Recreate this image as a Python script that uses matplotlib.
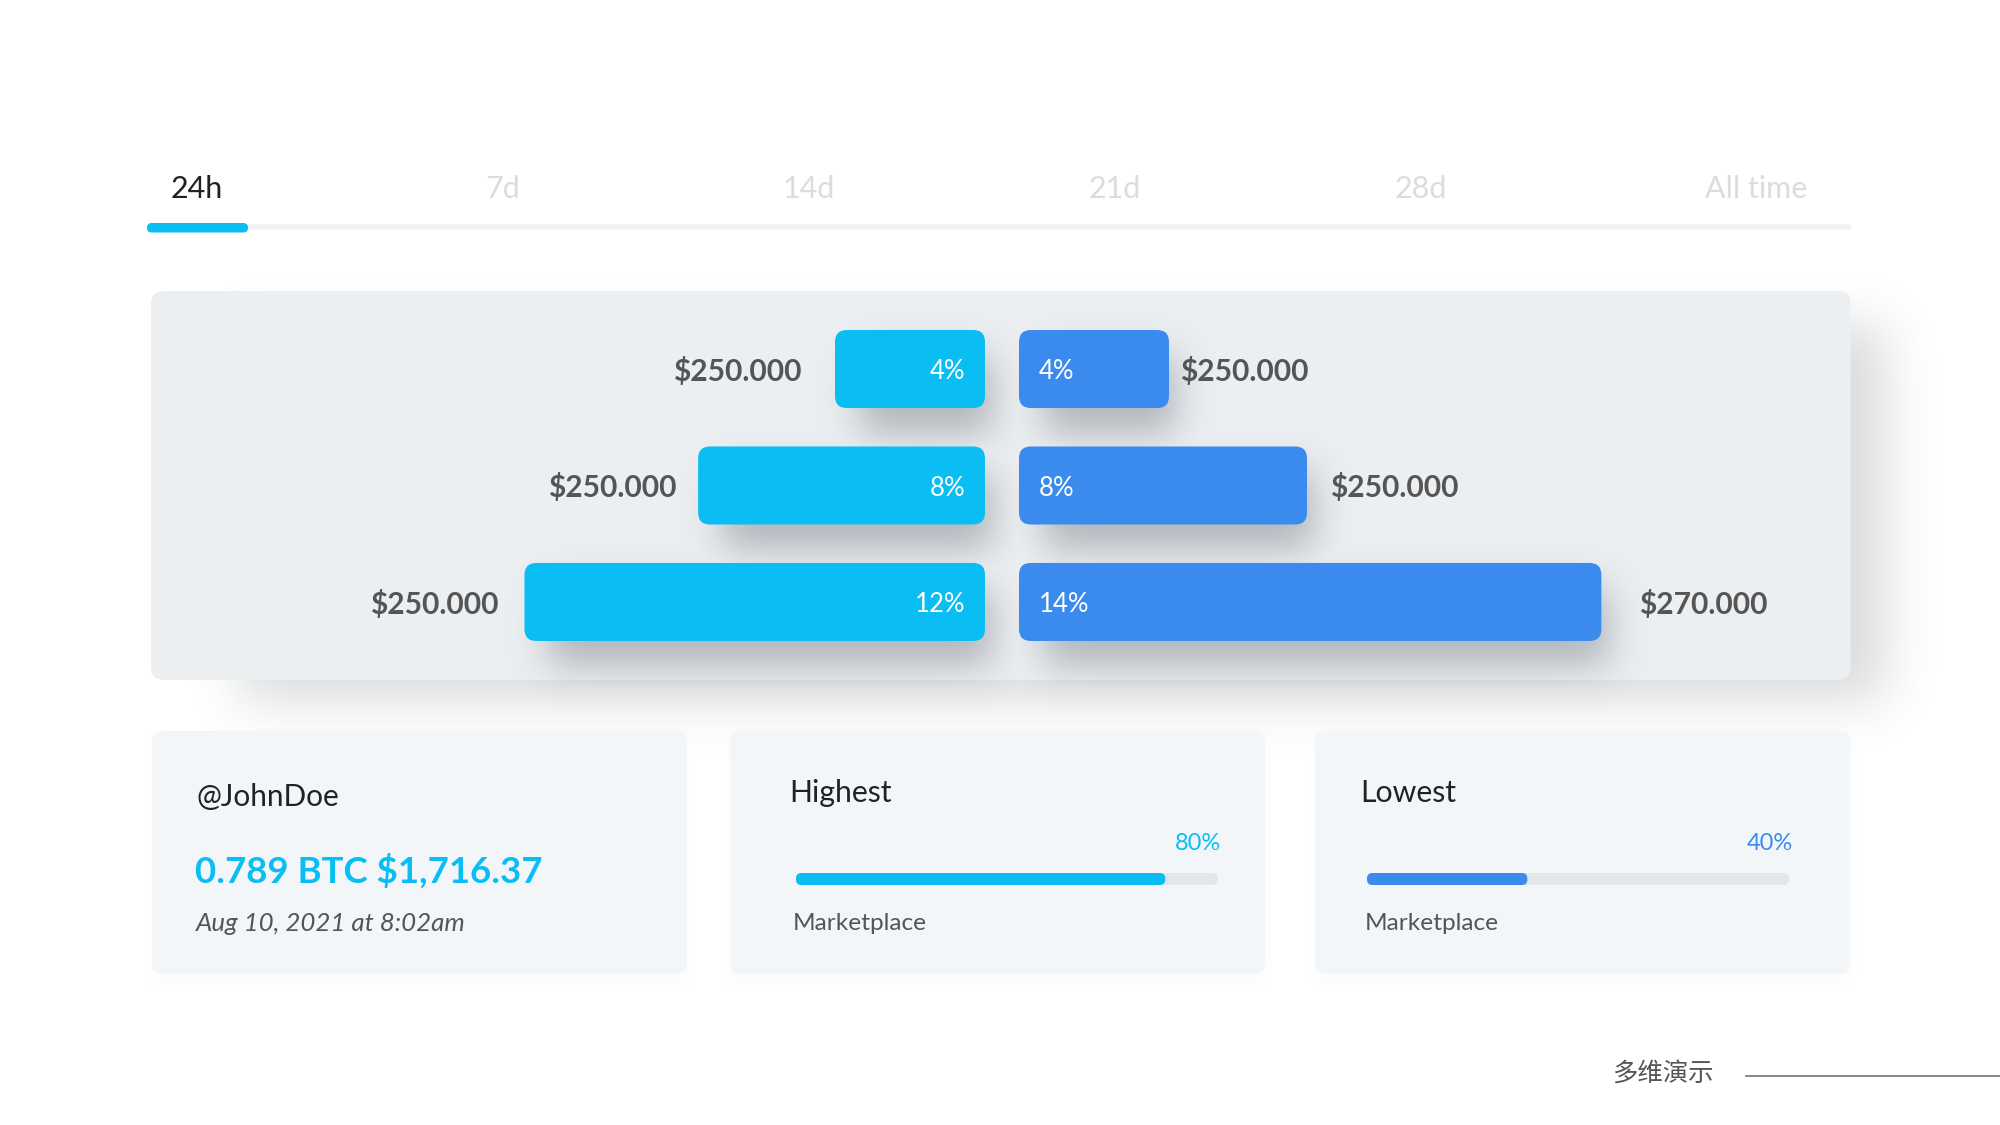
import numpy as np
import matplotlib
matplotlib.use("Agg")
import matplotlib.pyplot as plt
from matplotlib.patches import FancyBboxPatch, Rectangle

# ---- data ----
tabs = ["24h", "7d", "14d", "21d", "28d", "All time"]
tab_centres = [197, 503, 809, 1115, 1421, 1756]
left_lengths = [4.0, 7.65, 12.28]     # bar lengths
right_lengths = [4.0, 7.68, 15.53]
left_pct = ["4%", "8%", "12%"]
right_pct = ["4%", "8%", "14%"]
left_money = ["$250.000", "$250.000", "$250.000"]
right_money = ["$250.000", "$250.000", "$270.000"]
left_money_end = [802, 677, 499]
right_money_start = [1180, 1330, 1639]
progress_titles = ["Highest", "Lowest"]
progress_fill = [87.5, 38.0]
progress_labels = ["80%", "40%"]

CYAN = "#0ABDF3"
BLUE = "#3B8BEE"
PANEL = "#ECEFF2"
CARD = "#F3F6F9"
DARK = "#222222"
GREY = "#555555"

W, H = 2000, 1125
plt.rcParams["font.family"] = ["Lato", "Noto Sans CJK SC", "DejaVu Sans"]
fig = plt.figure(figsize=(20, 11.25), dpi=100, facecolor="white")
ax = fig.add_axes([0, 0, 1, 1], zorder=0)
ax.set_axis_off()


def sub_axes(x0, y0, x1, y1, z=1):
    a = fig.add_axes([x0 / W, 1 - y1 / H, (x1 - x0) / W, (y1 - y0) / H], zorder=z)
    a.set_axis_off()
    a.patch.set_alpha(0)
    return a


def rbox(a, x, y, w, h, r, a_ratio=1.0, **kw):
    p = FancyBboxPatch((x, y), w, h, boxstyle=f"round,pad=0,rounding_size={r}",
                       mutation_aspect=a_ratio, linewidth=0, **kw)
    a.add_patch(p)
    return p


def blur_profile(n, a, b, sigma):
    box = np.zeros(n)
    box[max(int(a), 0):min(int(b), n)] = 1
    k = np.arange(-int(4 * sigma), int(4 * sigma) + 1)
    g = np.exp(-k ** 2 / (2 * sigma ** 2))
    g /= g.sum()
    return np.convolve(box, g, mode="same")


def shadow_layer(rects, sigma, alpha, colour, z):
    m = np.zeros((H, W))
    for x0, y0, x1, y1 in rects:
        m = np.maximum(m, np.outer(blur_profile(H, y0, y1, sigma), blur_profile(W, x0, x1, sigma)))
    rgba = np.zeros((H, W, 4))
    rgba[..., :3] = matplotlib.colors.to_rgb(colour)
    rgba[..., 3] = m * alpha
    ax.imshow(rgba, extent=(0, W, H, 0), aspect="auto", zorder=z, interpolation="bilinear")


def T(x, y, s, size, color, ha="left", **kw):
    ax.text(x, y + 2.5, s, fontsize=size, color=color, ha=ha, va="center", zorder=10, **kw)


# ---- tabs ----
ax.add_patch(FancyBboxPatch((147, 224.5), 1705, 5, boxstyle="round,pad=0,rounding_size=2.5",
                            fc="#F0F1F2", lw=0, zorder=2))
ax.add_patch(FancyBboxPatch((147, 223), 101, 9.5, boxstyle="round,pad=0,rounding_size=4.7",
                            fc=CYAN, lw=0, zorder=3))
for i, (t, c) in enumerate(zip(tabs, tab_centres)):
    T(c, 187, t, 22, DARK if i == 0 else "#DADCDE", ha="center")

# ---- panel and shadow ----
shadow_layer([(240, 325, 1885, 700)], 25, 0.22, "#555a60", 1)
ax.add_patch(FancyBboxPatch((151, 291), 1699.5, 389, boxstyle="round,pad=0,rounding_size=13",
                            fc=PANEL, lw=0, zorder=2))

# ---- mirrored bars ----
row_px = 116.5
y_top = -0.67
y_bot = 2.67
x_px = 37.5
ratio = x_px / row_px
axL = sub_axes(985 - 22 * x_px, 291, 985, 680)
axL.set_xlim(22, 0)
axL.set_ylim(y_bot, y_top)
axR = sub_axes(1019, 291, 1019 + 22 * x_px, 680)
axR.set_xlim(0, 22)
axR.set_ylim(y_bot, y_top)

shadow_rects = []
for a, vals, col, pct, sign, ha in [(axL, left_lengths, CYAN, left_pct, -1, "right"),
                                    (axR, right_lengths, BLUE, right_pct, 1, "left")]:
    for i, v in enumerate(vals):
        rbox(a, 0, i - 0.335, v, 0.67, 12 / x_px, ratio, fc=col)
        a.annotate(pct[i], xy=(0, i), xytext=(sign * 14.0, -2), textcoords="offset points",
                   fontsize=18.5, color="white", ha=ha, va="center")
        (px0, py0) = a.transData.transform((0, i - 0.335))
        (px1, py1) = a.transData.transform((v, i + 0.335))
        xa, xb = sorted((px0, px1))
        ya, yb = sorted((H - py0, H - py1))
        shadow_rects.append((xa + 24, ya + 25, xb + 8, yb + 26))
shadow_layer(shadow_rects, 19, 0.42, "#5f6670", 3)

for i in range(3):
    T(left_money_end[i], [369, 485, 602][i], left_money[i], 21.6, GREY, ha="right", fontweight="bold")
    T(right_money_start[i], [369, 485, 602][i], right_money[i], 21.6, GREY, fontweight="bold")

# ---- cards ----
shadow_layer([(152, 735, 687, 985), (730, 735, 1265, 985), (1315, 735, 1850, 985)], 8, 0.02, "#555a60", 3)
for x0, x1 in [(152, 687), (730, 1265), (1315, 1850)]:
    ax.add_patch(FancyBboxPatch((x0, 731), x1 - x0, 243, boxstyle="round,pad=0,rounding_size=10",
                                fc=CARD, lw=0, zorder=4))

T(196, 795, "@JohnDoe", 21.4, DARK)
T(195, 869, "0.789 BTC $1,716.37", 26.4, CYAN, fontweight="bold")
T(196, 921, "Aug 10, 2021 at 8:02am", 18.6, GREY, fontstyle="italic")

for title, tx, lbl, lblx, col, fill, bx0, bx1, mx in zip(
        progress_titles, [789, 1360], progress_labels, [1221, 1793], [CYAN, BLUE],
        progress_fill, [796, 1367], [1218, 1789], [793, 1365]):
    T(tx, 790.5, title, 21.8, DARK)
    T(lblx, 840.5, lbl, 17, col, ha="right")
    T(mx, 921.5, "Marketplace", 17.6, GREY)
    b = sub_axes(bx0, 873, bx1, 885)
    b.set_xlim(0, 100)
    b.set_ylim(0, 1)
    unit = (bx1 - bx0) / 100
    rbox(b, 0, 0, 100, 1, 5.5 / unit, unit / 12, fc="#E2E6E8", clip_on=False)
    rbox(b, 0, 0, fill, 1, 5.5 / unit, unit / 12, fc=col, clip_on=False)

# ---- footer ----
T(1663, 1071.5, "多维演示", 18.3, GREY, ha="center", family=["Noto Sans CJK SC", "DejaVu Sans"], fontweight="light")
ax.plot([1746, 2000], [1076, 1076], color="#666666", lw=1.1, zorder=5)

ax.set_xlim(0, W)
ax.set_ylim(H, 0)
fig.savefig("out.png", dpi=100, facecolor="white")
